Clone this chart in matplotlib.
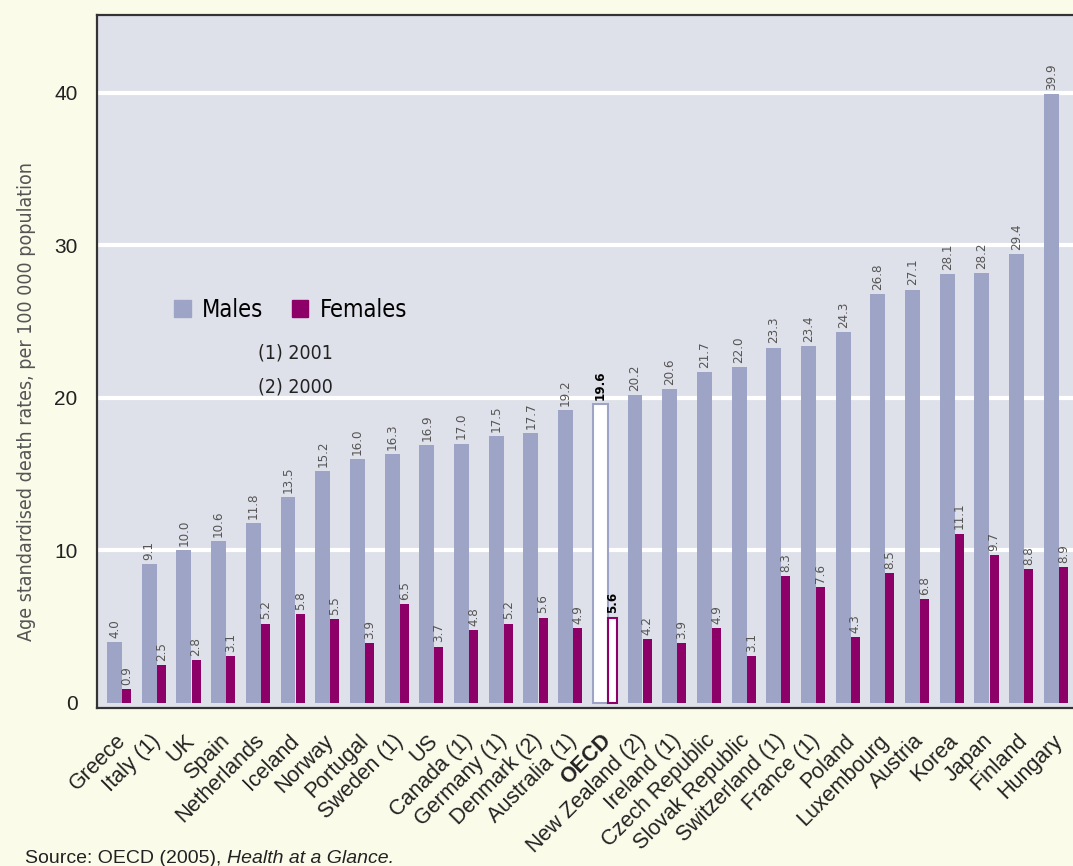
import numpy as np
import matplotlib.pyplot as plt
from matplotlib.patches import Patch

countries = ["Greece", "Italy (1)", "UK", "Spain", "Netherlands", "Iceland", "Norway",
             "Portugal", "Sweden (1)", "US", "Canada (1)", "Germany (1)", "Denmark (2)",
             "Australia (1)", "OECD", "New Zealand (2)", "Ireland (1)", "Czech Republic",
             "Slovak Republic", "Switzerland (1)", "France (1)", "Poland", "Luxembourg",
             "Austria", "Korea", "Japan", "Finland", "Hungary"]
males = [4.0, 9.1, 10.0, 10.6, 11.8, 13.5, 15.2, 16.0, 16.3, 16.9, 17.0, 17.5, 17.7,
         19.2, 19.6, 20.2, 20.6, 21.7, 22.0, 23.3, 23.4, 24.3, 26.8, 27.1, 28.1, 28.2,
         29.4, 39.9]
females = [0.9, 2.5, 2.8, 3.1, 5.2, 5.8, 5.5, 3.9, 6.5, 3.7, 4.8, 5.2, 5.6, 4.9, 5.6,
           4.2, 3.9, 4.9, 3.1, 8.3, 7.6, 4.3, 8.5, 6.8, 11.1, 9.7, 8.8, 8.9]
yticks = [0, 10, 20, 30, 40]

MALE_C = '#9ea4c6'
FEMALE_C = '#8c0068'
BG = '#fbfbea'
PLOT_BG = '#dfe1ea'
NARROW = dict(family=['DejaVu Sans'], stretch='condensed')
REG = ['Liberation Sans', 'DejaVu Sans']

W, H = 1073, 866
fig = plt.figure(figsize=(W / 100, H / 100), dpi=100, facecolor=BG)
ax = fig.add_axes([97 / W, 1 - 708 / H, (W - 97) / W, (708 - 15) / H])
ax.set_facecolor(PLOT_BG)

x = np.arange(len(countries))
oecd = countries.index("OECD")
mx = x - 0.135
fx = x + 0.215

mbars = ax.bar(mx, males, 0.43, color=MALE_C, linewidth=0, zorder=2)
fbars = ax.bar(fx, females, 0.26, color=FEMALE_C, linewidth=0, zorder=2)
for b, ec in ((mbars[oecd], MALE_C), (fbars[oecd], FEMALE_C)):
    b.set_facecolor('white')
    b.set_edgecolor(ec)
    b.set_linewidth(1.5)

for yy in yticks[1:]:
    ax.axhline(yy, color='white', lw=3, zorder=1)

# value labels
for i in range(len(countries)):
    bold = i == oecd
    for xx, v in ((mx[i], males[i]), (fx[i], females[i])):
        ax.annotate(f"{v:.1f}", (xx, v), xytext=(0, 3), textcoords='offset points',
                    rotation=90, ha='center', va='bottom', fontsize=9.5, **NARROW,
                    color='black' if bold else '#555555',
                    fontweight='bold' if bold else 'normal', zorder=3)

ax.set_xlim(-0.64, 27.49)
ax.set_ylim(-0.33, 45.1)
ax.set_yticks(yticks)
ax.set_yticklabels([str(t) for t in yticks], fontsize=15, family=REG, color='#222222')
ax.set_xticks(x - 0.12)
ax.set_xticklabels(countries, rotation=45, ha='right', rotation_mode='anchor',
                   fontsize=15.5, family=REG, color='#222222')
ax.get_xticklabels()[oecd].set_fontweight('bold')
ax.tick_params(axis='y', length=0, pad=14)
ax.tick_params(axis='x', length=0, pad=16)
for s in ('left', 'top', 'bottom'):
    ax.spines[s].set_color('#333333')
    ax.spines[s].set_linewidth(1.6)
ax.spines['right'].set_visible(False)

ax.set_ylabel("Age standardised death rates, per 100 000 population", fontsize=14,
              **NARROW, color='#555555')
ax.yaxis.set_label_coords(-0.0625, 0.442)

handles = [Patch(color=MALE_C, label='Males'), Patch(color=FEMALE_C, label='Females')]
leg = fig.legend(handles=handles, loc='center left', bbox_to_anchor=(174 / W, 1 - 310 / H),
                 ncol=2, frameon=False, handlelength=0.7, handleheight=0.7,
                 handletextpad=0.5, columnspacing=1.2, borderpad=0, borderaxespad=0,
                 prop=dict(size=17, **NARROW))
fig.text(258 / W, 1 - 353 / H, "(1) 2001", fontsize=14, **NARROW, va='center',
         color='#222222')
fig.text(258 / W, 1 - 387 / H, "(2) 2000", fontsize=14, **NARROW, va='center',
         color='#222222')

t1 = fig.text(25 / W, 1 - 863 / H, "Source: OECD (2005), ", fontsize=14, family=REG,
              va='baseline', color='#222222')
fig.canvas.draw()
bb = t1.get_window_extent()
fig.text(bb.x1 / W, 1 - 863 / H, "Health at a Glance.", fontsize=14, family=REG,
         style='italic', va='baseline', color='#222222')

fig.savefig('out.png', dpi=100, facecolor=BG)
